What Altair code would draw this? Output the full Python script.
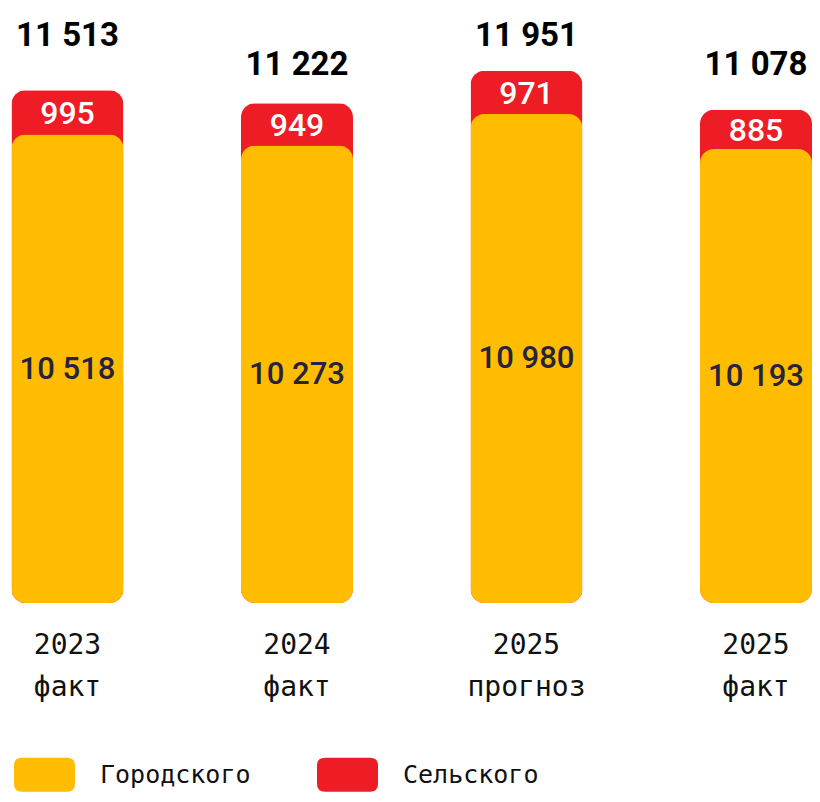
import altair as alt
import pandas as pd

categories = ["2023|факт", "2024|факт", "2025|прогноз", "2025|факт"]
urban = [10518, 10273, 10980, 10193]
rural = [995, 949, 971, 885]
series_names = ["Городского", "Сельского"]
colors = ["#FFBC00", "#EE1C25"]

df = pd.DataFrame({
    "cat": categories,
    "urban": urban,
    "rural": rural,
    "idx": list(range(len(categories))),
})

x = alt.X("cat:N", sort=categories, title=None,
          scale=alt.Scale(range=[3.5, 804], paddingInner=0.512, paddingOuter=0),
          axis=alt.Axis(labelExpr="split(datum.label, '|')", labelAngle=0,
                        labelFont="DejaVu Sans Mono", labelFontSize=28,
                        labelColor="#111111", labelLineHeight=42,
                        labelPadding=28, labelBaseline="top",
                        domain=False, ticks=False, grid=False))

yscale = alt.Scale(domain=[0, 13360], nice=False, zero=True)
color_scale = alt.Scale(domain=series_names, range=colors)

rr_path = ("M-0.74,-0.56 L0.74,-0.56 Q1,-0.56 1,-0.3 L1,0.3 Q1,0.56 0.74,0.56 "
           "L-0.74,0.56 Q-1,0.56 -1,0.3 L-1,-0.3 Q-1,-0.56 -0.74,-0.56 Z")

base = alt.Chart(df).transform_calculate(
    total="datum.urban + datum.rural",
    mid_r="datum.urban + datum.rural/2",
    mid_u="datum.urban/2",
    t_lab="replace(format(datum.urban + datum.rural, ','), ',', ' ')",
    u_lab="replace(format(datum.urban, ','), ',', ' ')",
    r_lab="format(datum.rural, 'd')",
    s_r="'" + series_names[1] + "'",
    s_u="'" + series_names[0] + "'",
)

legend = alt.Legend(title=None, orient="none", direction="horizontal",
                    legendX=6, legendY=736,
                    symbolType=rr_path, symbolSize=3721,
                    symbolStrokeWidth=0, symbolOpacity=1,
                    labelFont="DejaVu Sans Mono", labelFontSize=25,
                    labelColor="#111111", labelOffset=25, labelLimit=400,
                    columnPadding=66, padding=0)

red = base.mark_bar(cornerRadius=14).encode(
    x=x,
    y=alt.Y("total:Q", scale=yscale, axis=None),
    color=alt.Color("s_r:N", scale=color_scale, legend=legend),
)
yellow = base.mark_bar(cornerRadius=14).encode(
    x=x,
    y=alt.Y("urban:Q", scale=yscale),
    color=alt.Color("s_u:N", scale=color_scale, legend=legend),
)
red_txt = base.mark_text(font="Roboto", fontSize=32, fontWeight=500,
                         color="white", baseline="middle", dy=2).encode(
    x=x, y=alt.Y("mid_r:Q", scale=yscale), text="r_lab:N")
yel_txt = base.mark_text(font="Roboto", fontSize=31, fontWeight=500,
                         color="#25233F", baseline="middle", dy=1).encode(
    x=x, y=alt.Y("mid_u:Q", scale=yscale), text="u_lab:N")
tot_a = base.transform_filter("datum.idx % 2 == 0").mark_text(
    font="Roboto", fontSize=33, fontWeight="bold", color="#000000",
    baseline="middle", y=28).encode(x=x, text="t_lab:N")
tot_b = base.transform_filter("datum.idx % 2 == 1").mark_text(
    font="Roboto", fontSize=33, fontWeight="bold", color="#000000",
    baseline="middle", y=57).encode(x=x, text="t_lab:N")

chart = alt.layer(red, yellow, red_txt, yel_txt, tot_a, tot_b).properties(
    width=804, height=595,
    autosize=alt.AutoSizeParams(type="none"),
    padding={"left": 0, "top": 0, "right": 0, "bottom": 191},
    background="white",
).configure_view(stroke=None)

chart.save("out.html", embed_options={"renderer": "svg", "actions": False})
